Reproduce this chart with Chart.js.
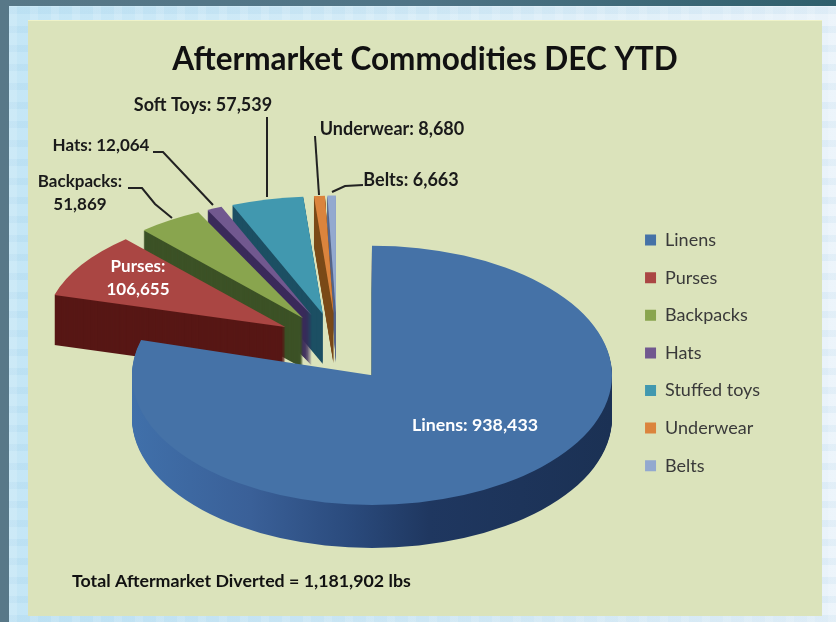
<!DOCTYPE html>
<html>
<head>
<meta charset="utf-8">
<style>
  html, body { margin: 0; padding: 0; }
  body { width: 836px; height: 622px; overflow: hidden; position: relative;
         background: linear-gradient(90deg, #587888 0%, #4f7486 50%, #2f5f6c 100%); }
  #frame { position: absolute; left: 9px; top: 6px; width: 827px; height: 616px;
           background:
             repeating-linear-gradient(90deg, rgba(255,255,255,.14) 0 8px, transparent 8px 21px),
             repeating-linear-gradient(0deg, rgba(110,175,215,.10) 0 7px, transparent 7px 19px),
             linear-gradient(90deg, #c4e6f6 0%, #d6ecf7 50%, #eaf3fa 100%); }
  #panel { position: absolute; left: 28px; top: 20px; width: 794px; height: 596px; background: #dbe3bb;
           box-shadow: inset 0 1px 0 #eef2c8; }
  #wrap { position: absolute; left: 0; top: 0; width: 836px; height: 622px; filter: blur(0.5px); }
</style>
</head>
<body>
<div id="frame"></div>
<div id="panel"></div>
<div id="wrap"><canvas id="myChart" width="836" height="622"></canvas></div>
<script src="https://cdn.jsdelivr.net/npm/chart.js@4"></script>
<script>
var categories = ['Linens', 'Purses', 'Backpacks', 'Hats', 'Stuffed toys', 'Underwear', 'Belts'];
var labelNames = ['Linens', 'Purses', 'Backpacks', 'Hats', 'Soft Toys', 'Underwear', 'Belts'];
var pounds = [938433, 106655, 51869, 12064, 57539, 8680, 6663];
var sliceColors = ['#4572a7', '#aa4643', '#89a54e', '#71588f', '#4198af', '#db843d', '#93a9cf'];
var wallColors = ['#2a4a78', '#571715', '#3c5226', '#3a2a5a', '#1c4f63', '#7a4a1a', '#56678c'];

var title = 'Aftermarket Commodities DEC YTD';
var footer = 'Total Aftermarket Diverted = 1,181,902 lbs';

// squashed pie, the linens slice sits nearer the viewer so it gets its own scale
function sliceView(i) {
    return i === 0 ? { cx: 372 - 36.8, cy: 349, sy: 0.54, depth: 43 }
                   : { cx: 337, cy: 343, sy: 0.49, depth: 50 };
}

function slicePath(ctx, arc, view, shift) {
    var mid = (arc.startAngle + arc.endAngle) / 2;
    var off = arc.options.offset;
    ctx.save();
    ctx.translate(view.cx, view.cy + shift);
    ctx.scale(1, view.sy);
    ctx.beginPath();
    ctx.moveTo(Math.cos(mid) * off, Math.sin(mid) * off);
    ctx.arc(Math.cos(mid) * off, Math.sin(mid) * off, arc.outerRadius, arc.startAngle, arc.endAngle);
    ctx.closePath();
    ctx.restore();
}

var pie3d = {
    id: 'pie3d',
    beforeDatasetDraw: function (chart, args) {
        var ctx = chart.ctx;
        var arcs = args.meta.data;
        for (var i = arcs.length - 1; i >= 0; i--) {
            var view = sliceView(i);
            if (i === 0) {
                var rim = ctx.createLinearGradient(130, 0, 612, 0);
                rim.addColorStop(0, '#4070aa');
                rim.addColorStop(0.25, '#3a6098');
                rim.addColorStop(0.46, '#2a4a7c');
                rim.addColorStop(0.62, '#1f3760');
                rim.addColorStop(1, '#1b3154');
                ctx.fillStyle = rim;
            } else {
                ctx.fillStyle = wallColors[i];
            }
            for (var d = view.depth; d > 0; d--) {
                slicePath(ctx, arcs[i], view, d);
                ctx.fill();
            }
            slicePath(ctx, arcs[i], view, 0);
            ctx.fillStyle = sliceColors[i];
            ctx.fill();
        }
        return false;
    }
};

var labelSpots = [
    { lines: ['{n}: {v}'], x: 475, y: 425, size: 17.8, color: '#ffffff' },
    { lines: ['{n}:', '{v}'], x: 138, y: 267, size: 17, color: '#ffffff' },
    { lines: ['{n}:', '{v}'], x: 80, y: 182, size: 17, color: '#1a1a1a', line: [[128, 188], [142, 188], [155, 204], [172, 218]] },
    { lines: ['{n}: {v}'], x: 101, y: 146, size: 17, color: '#1a1a1a', line: [[153, 152], [163, 152], [213, 205]] },
    { lines: ['{n}: {v}'], x: 203, y: 105, size: 18, color: '#1a1a1a', line: [[267, 117], [267, 197]] },
    { lines: ['{n}: {v}'], x: 392, y: 129, size: 18, color: '#1a1a1a', line: [[315, 136], [319, 195]] },
    { lines: ['{n}: {v}'], x: 411, y: 180, size: 18, color: '#1a1a1a', line: [[332, 192], [345, 186], [363, 185]] }
];

var sliceLabels = {
    id: 'sliceLabels',
    afterDraw: function (chart) {
        var ctx = chart.ctx;
        ctx.save();
        ctx.textAlign = 'center';
        ctx.textBaseline = 'middle';
        labelSpots.forEach(function (spot, i) {
            if (spot.line) {
                ctx.strokeStyle = '#222222';
                ctx.lineWidth = 2;
                ctx.beginPath();
                spot.line.forEach(function (p, k) {
                    if (k === 0) ctx.moveTo(p[0], p[1]); else ctx.lineTo(p[0], p[1]);
                });
                ctx.stroke();
            }
            ctx.font = 'bold ' + spot.size + 'px Lato';
            ctx.fillStyle = spot.color;
            spot.lines.forEach(function (t, k) {
                var text = t.replace('{n}', labelNames[i]).replace('{v}', pounds[i].toLocaleString('en-US'));
                ctx.fillText(text, spot.x, spot.y + k * 23);
            });
        });
        ctx.font = 'bold 17.8px Lato';
        ctx.textAlign = 'left';
        ctx.fillStyle = '#111111';
        ctx.fillText(footer, 72, 581);
        ctx.restore();
    }
};

var chart = new Chart(document.getElementById('myChart').getContext('2d'), {
    type: 'pie',
    data: {
        labels: categories,
        datasets: [{
            data: pounds,
            backgroundColor: sliceColors,
            borderWidth: 0,
            offset: 61
        }]
    },
    options: {
        responsive: false,
        animation: false,
        radius: 240,
        layout: { padding: { left: 80, right: 66, top: 41, bottom: 20 } },
        plugins: {
            title: {
                display: true,
                text: title,
                color: '#111111',
                font: { family: 'Lato', size: 31.5, weight: 'bold' },
                padding: { top: 0, bottom: 25 }
            },
            legend: {
                position: 'right',
                fullSize: false,
                labels: {
                    color: '#3a3a3a',
                    font: { family: 'Lato', size: 18 },
                    boxWidth: 11,
                    boxHeight: 11,
                    padding: 19.6
                }
            },
            tooltip: { enabled: false }
        }
    },
    plugins: [pie3d, sliceLabels]
});
</script>
</body>
</html>
